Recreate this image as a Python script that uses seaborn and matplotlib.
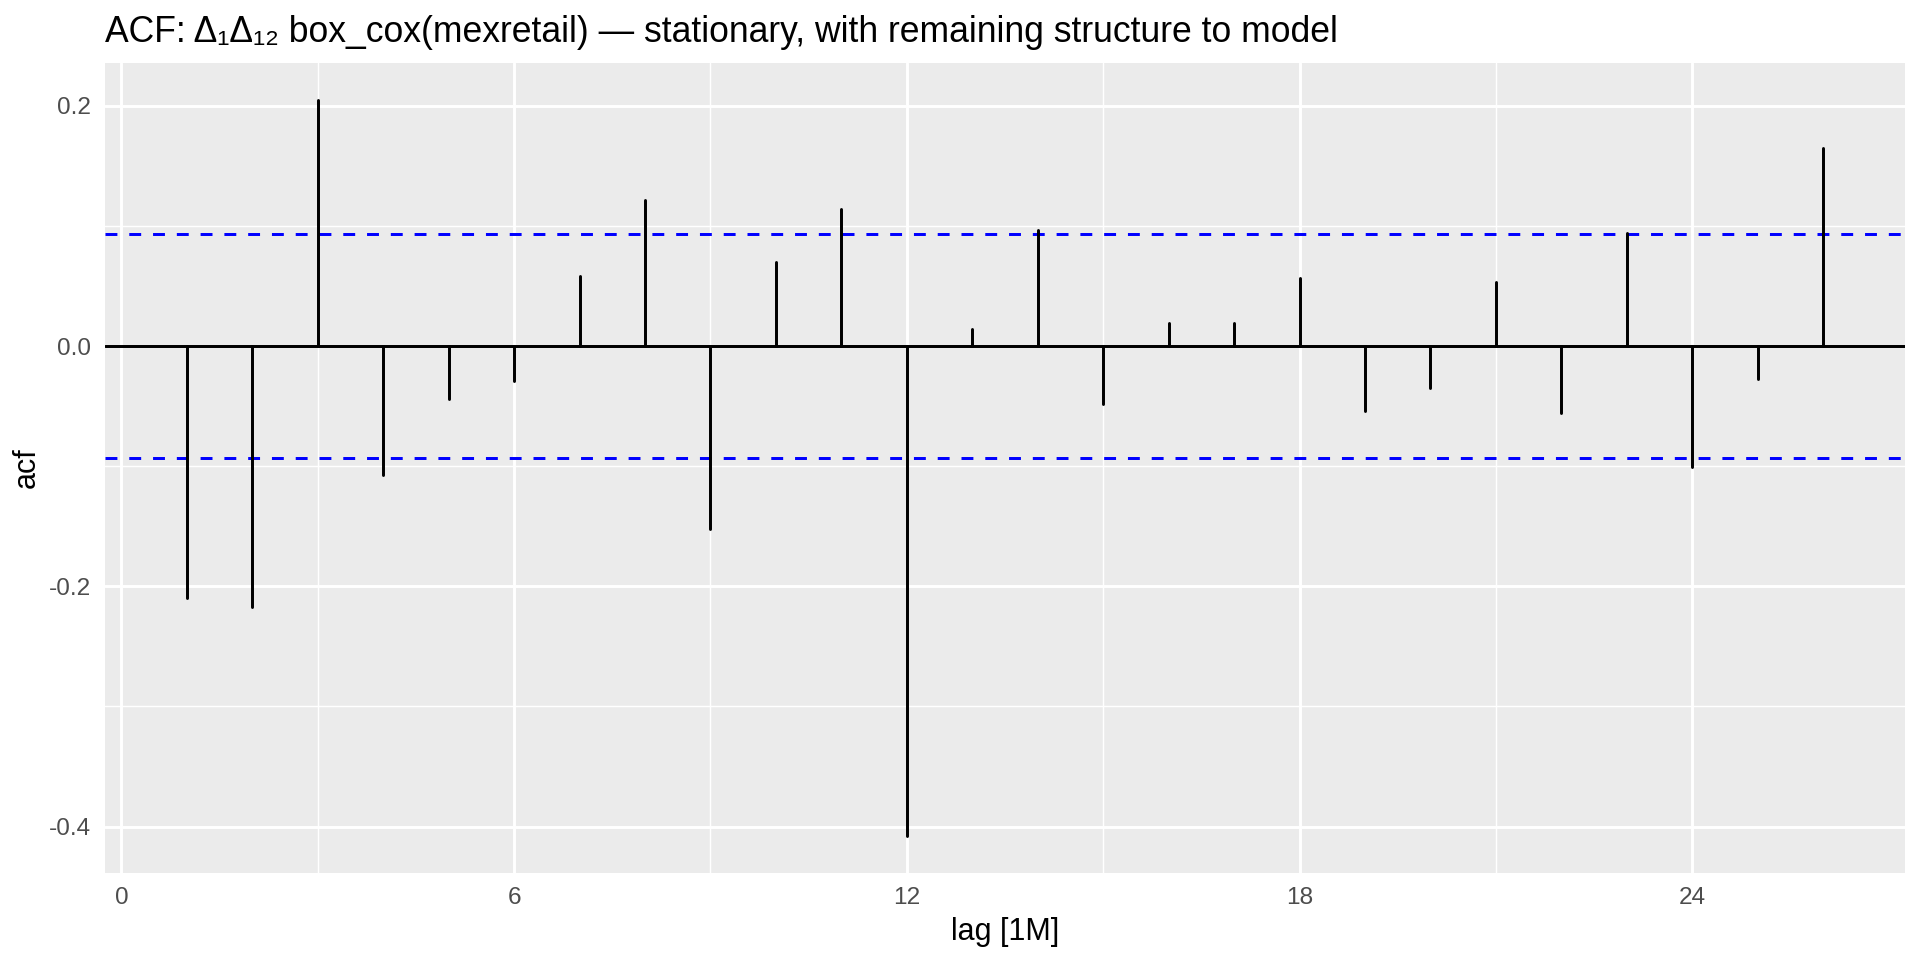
import numpy as np
import pandas as pd
import seaborn as sns
import matplotlib.pyplot as plt

# Valores (ACF de la serie diferenciada)
lags = list(range(1, 27))
acf = [-0.210, -0.217, 0.205, -0.107, -0.044, -0.029, 0.058, 0.122, -0.152, 0.070,
       0.114, -0.408, 0.014, 0.097, -0.048, 0.019, 0.019, 0.057, -0.054, -0.035,
       0.053, -0.056, 0.094, -0.101, -0.027, 0.165]
ci = 0.0935  # límite de significancia (1.96/sqrt(T))

# tabla larga: cada lag va de 0 a su valor
datos = pd.DataFrame({
    'lag': np.repeat(lags, 2),
    'acf': np.ravel([[0.0, v] for v in acf]),
})

sns.set_theme(style='darkgrid', rc={
    'axes.facecolor': '#EBEBEB',
    'grid.color': 'white',
    'axes.unicode_minus': False,
    'axes.labelcolor': 'black',
    'text.color': 'black',
})
plt.rcParams['font.family'] = ['Liberation Sans', 'DejaVu Sans']

fig = plt.figure(figsize=(9.6, 4.8), dpi=200)
ax = fig.add_axes([105 / 1920, 1 - 873 / 960, 1800 / 1920, 810 / 960])

ax.axhline(0, color='black', lw=1.07, zorder=2)
ax.axhline(ci, color='blue', lw=1.07, ls=(0, (4, 4)), zorder=2)
ax.axhline(-ci, color='blue', lw=1.07, ls=(0, (4, 4)), zorder=2)
sns.lineplot(data=datos, x='lag', y='acf', units='lag', estimator=None,
             color='black', lw=1.07, ax=ax, zorder=3)

# límites con la expansión de ggplot (5%)
lo, hi = min(acf), max(acf)
ax.set_xlim(1 - 0.05 * 25, 26 + 0.05 * 25)
ax.set_ylim(lo - 0.05 * (hi - lo), hi + 0.05 * (hi - lo))

ax.set_xticks([0, 6, 12, 18, 24])
ax.set_xticks([3, 9, 15, 21], minor=True)
ax.set_yticks([-0.4, -0.2, 0.0, 0.2])
ax.set_yticks([-0.3, -0.1, 0.1], minor=True)
ax.set_yticklabels(['-0.4', '-0.2', '0.0', '0.2'])
ax.grid(which='major', color='white', lw=1.07)
ax.grid(which='minor', color='white', lw=0.53)
for s in ax.spines.values():
    s.set_visible(False)
ax.tick_params(which='major', length=2.75, width=1.07, color='#333333',
               labelsize=8.8, labelcolor='#4D4D4D', pad=2.2)
ax.tick_params(which='minor', length=0)

ax.set_xlabel('lag [1M]', fontsize=11, labelpad=3)
ax.set_ylabel('acf', fontsize=11, labelpad=2.5)
ax.set_title('ACF: Δ\u2081Δ\u2081\u2082 box_cox(mexretail) — stationary, with remaining structure to model',
             loc='left', fontsize=12.8, pad=7.5)

fig.savefig('out.png', dpi=200)
